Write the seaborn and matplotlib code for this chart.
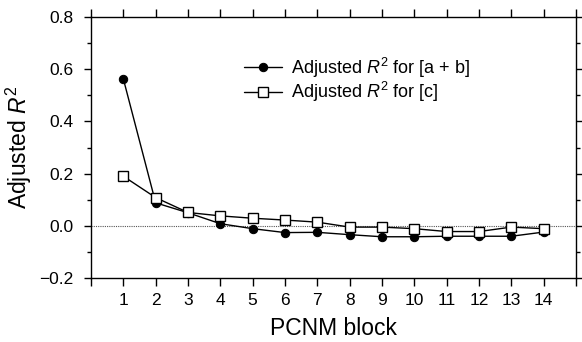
import matplotlib
matplotlib.use("Agg")
import matplotlib.pyplot as plt
from matplotlib.ticker import MultipleLocator, FixedLocator, FuncFormatter
import seaborn as sns
import pandas as pd

# PCNM blocks and adjusted R² of the two fractions
blocks = list(range(1, 15))
r2_ab = [0.563, 0.088, 0.050, 0.008, -0.011, -0.026, -0.025,
         -0.034, -0.042, -0.042, -0.040, -0.040, -0.040, -0.024]
r2_c = [0.190, 0.108, 0.051, 0.038, 0.029, 0.022, 0.014,
        -0.005, -0.005, -0.011, -0.022, -0.022, -0.005, -0.011]
labels = ["Adjusted $\\mathit{R}^2$ for [a + b]", "Adjusted $\\mathit{R}^2$ for [c]"]

sns.set_theme(style="ticks")
plt.rcParams["font.family"] = ["Liberation Sans", "DejaVu Sans"]
plt.rcParams["mathtext.fontset"] = "custom"
plt.rcParams["mathtext.rm"] = "Liberation Sans"
plt.rcParams["mathtext.it"] = "Liberation Sans:italic"
plt.rcParams["axes.unicode_minus"] = True
plt.rcParams["text.color"] = "black"
plt.rcParams["axes.labelcolor"] = "black"

df = pd.DataFrame({"block": blocks, "ab": r2_ab, "c": r2_c})

fig = plt.figure(figsize=(5.82, 3.42), dpi=100)
ax = fig.add_axes([91 / 582, 1 - 278 / 342, (576 - 91) / 582, (278 - 17) / 342])

ax.axhline(0, color="#555555", lw=0.8, ls=(0, (1, 1)), zorder=1)

sns.lineplot(data=df, x="block", y="ab", ax=ax, color="black", lw=1.0,
             marker="o", markersize=6, markerfacecolor="black",
             markeredgecolor="black", label=labels[0], zorder=3)
sns.lineplot(data=df, x="block", y="c", ax=ax, color="black", lw=1.0,
             marker="s", markersize=7.5, markerfacecolor="white",
             markeredgecolor="black", markeredgewidth=1.0,
             label=labels[1], zorder=4)

ax.set_xlim(0, 15)
ax.set_ylim(-0.2, 0.8)
ax.xaxis.set_major_locator(FixedLocator(range(0, 16)))
ax.set_xticklabels([""] + [str(b) for b in blocks] + [""])
ax.yaxis.set_major_locator(MultipleLocator(0.2))
ax.yaxis.set_minor_locator(MultipleLocator(0.1))
ax.yaxis.set_major_formatter(FuncFormatter(
    lambda v, p: f"{v:.1f}".replace("-", "\u2212")))

for s in ax.spines.values():
    s.set_visible(True)
    s.set_linewidth(1.0)
    s.set_color("black")

ax.tick_params(axis="x", which="major", direction="out", length=5.5, width=1,
               top=True, bottom=True, labelsize=12.5, pad=5,
               colors="black", labelcolor="black")
ax.tick_params(axis="y", which="major", direction="out", length=5, width=1,
               left=True, right=True, labelsize=12.5, pad=7.5,
               colors="black", labelcolor="black")
ax.tick_params(axis="y", which="minor", direction="out", length=3, width=1,
               left=True, right=True, colors="black")

ax.set_xlabel("PCNM block", fontsize=16.5, labelpad=7)
ax.set_ylabel("Adjusted $\\mathit{R}^2$", fontsize=16.5, labelpad=4)

leg = ax.legend(loc="upper left", bbox_to_anchor=(0.3, 0.88), frameon=False,
                fontsize=13, handlelength=2.1, handletextpad=0.5,
                labelspacing=0.02, borderaxespad=0)

fig.savefig("out.png", dpi=100, facecolor="white")
